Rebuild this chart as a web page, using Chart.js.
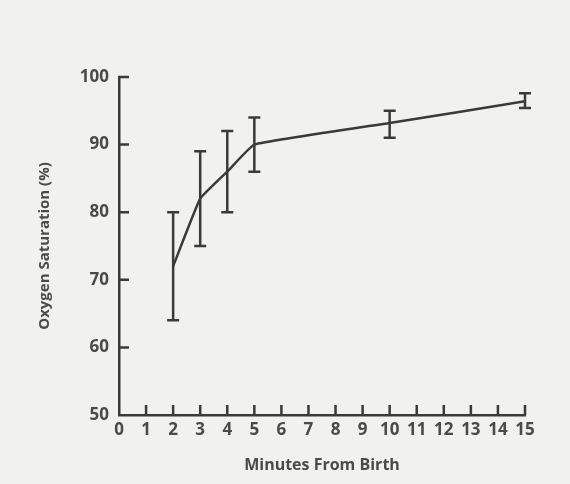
<!DOCTYPE html>
<html>
<head>
<meta charset="utf-8">
<script src="https://cdn.jsdelivr.net/npm/chart.js@4"></script>
<style>
  html, body { margin: 0; padding: 0; background: #f1f1ef; }
  #wrap { width: 570px; height: 484px; }
</style>
</head>
<body>
<div id="wrap"><canvas id="myChart" width="570" height="484"></canvas></div>
<script>
// values
const minutes = [2, 3, 4, 5, 10, 15];          // minutes from birth
const meanSat = [72, 82, 86, 90, 93.2, 96.4];  // mean oxygen saturation (%)
const upperSat = [80, 89, 92, 94, 95, 97.6];   // top of error bar
const lowerSat = [64, 75, 80, 86, 91, 95.4];   // bottom of error bar

const ink = '#3a3a3a';
const textInk = '#4a4a4a';

// error bars drawn with the chart's own scales
const errorBars = {
    id: 'errorBars',
    afterDatasetsDraw(chart) {
        const { ctx, scales: { x, y } } = chart;
        ctx.save();
        ctx.strokeStyle = ink;
        ctx.lineWidth = 2.5;
        minutes.forEach((m, i) => {
            const px = x.getPixelForValue(m);
            const top = y.getPixelForValue(upperSat[i]);
            const bot = y.getPixelForValue(lowerSat[i]);
            ctx.beginPath();
            ctx.moveTo(px, top); ctx.lineTo(px, bot);
            ctx.moveTo(px - 6, top); ctx.lineTo(px + 6, top);
            ctx.moveTo(px - 6, bot); ctx.lineTo(px + 6, bot);
            ctx.stroke();
        });
        ctx.restore();
    }
};

// tick marks point into the plot, like the printed figure
const innerTicks = {
    id: 'innerTicks',
    afterDraw(chart) {
        const { ctx, scales: { x, y } } = chart;
        ctx.save();
        ctx.strokeStyle = ink;
        ctx.lineWidth = 2.5;
        ctx.beginPath();
        x.ticks.forEach(t => {
            if (t.value === 0) return;
            const px = x.getPixelForValue(t.value);
            ctx.moveTo(px, x.top); ctx.lineTo(px, x.top - 10);
        });
        y.ticks.forEach(t => {
            if (t.value === 50) return;
            const py = y.getPixelForValue(t.value);
            ctx.moveTo(y.right - 1, py); ctx.lineTo(y.right + 10, py);
        });
        ctx.stroke();
        ctx.restore();
    }
};

const tickFont = { family: 'Open Sans', weight: 'bold', size: 17 };

const ctx = document.getElementById('myChart');
new Chart(ctx, {
    type: 'line',
    data: {
        datasets: [{
            data: minutes.map((m, i) => ({ x: m, y: meanSat[i] })),
            borderColor: ink,
            borderWidth: 2.5,
            pointRadius: 0,
            fill: false,
            tension: 0.1
        }]
    },
    options: {
        responsive: false,
        animation: false,
        layout: { padding: { top: 77, right: 45, left: 0, bottom: 0 } },
        plugins: { legend: { display: false }, tooltip: { enabled: false } },
        scales: {
            x: {
                type: 'linear',
                min: 0, max: 15,
                afterFit: s => { s.height = 69; },
                border: { color: ink, width: 2.5 },
                grid: { display: false, drawTicks: false },
                ticks: {
                    stepSize: 1,
                    padding: 5,
                    color: textInk,
                    font: tickFont
                },
                title: {
                    display: true,
                    text: 'Minutes From Birth',
                    color: textInk,
                    padding: { top: 4, bottom: 9 },
                    font: { family: 'Open Sans', weight: 'bold', size: 16 }
                }
            },
            y: {
                min: 50, max: 100,
                afterFit: s => { s.width = 119; },
                border: { color: ink, width: 2.5 },
                grid: { display: false, drawTicks: false },
                ticks: {
                    stepSize: 10,
                    padding: 10,
                    color: textInk,
                    font: tickFont
                },
                title: {
                    display: true,
                    text: 'Oxygen Saturation (%)',
                    color: textInk,
                    padding: { top: 36, bottom: 0 },
                    font: { family: 'Open Sans', weight: 'bold', size: 15 }
                }
            }
        }
    },
    plugins: [errorBars, innerTicks]
});
</script>
</body>
</html>
